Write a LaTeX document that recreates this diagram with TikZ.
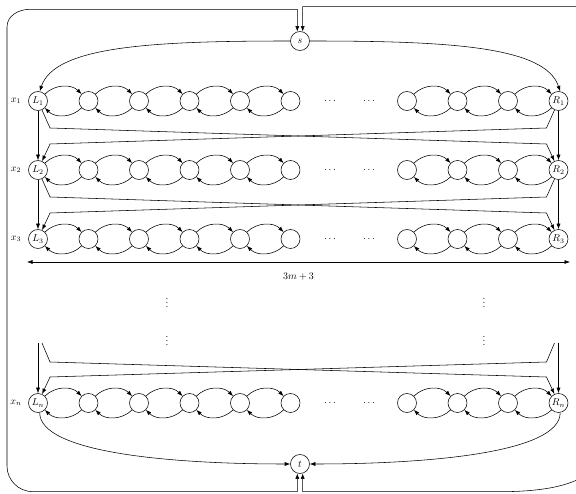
\documentclass[tikz,border=0pt]{standalone}
\usetikzlibrary{arrows.meta,calc}
\begin{document}
\begin{tikzpicture}[x=1pt,y=1pt,line width=0.55pt,
  >={Latex[length=5.5pt,width=4pt]},
  vtx/.style={circle,draw,minimum size=19pt,inner sep=0.5pt},
  chain/.style={->,bend left=45},
  lbl/.style={inner sep=1pt}]
\path[use as bounding box] (0,0) rectangle (576,493);
\clip (0,0) rectangle (576,493);
\node[vtx] (s) at (300,452) {$s$};
\node[vtx] (t) at (300,29) {$t$};
\foreach \r/\y in {1/392,2/323,3/254,n/90} {
  \node[vtx] (v\r-0) at (38,\y) {$L_{\r}$};
  \node[vtx] (v\r-9) at (558.5,\y) {$R_{\r}$};
  \node[lbl] (x\r) at (16,\y) {$x_{\r}$};
  \foreach \k in {1,...,5} {\node[vtx] (v\r-\k) at ({38+50.5*\k},\y) {};}
  \foreach \k in {6,7,8} {\node[vtx] (v\r-\k) at ({558.5-50.5*(9-\k)},\y) {};}
  \node (d\r a) at (330,\y) {$\cdots$};
  \node (d\r b) at (369,\y) {$\cdots$};
  \foreach \a/\b in {0/1,1/2,2/3,3/4,4/5,6/7,7/8,8/9} {
    \draw[chain] (v\r-\a) to (v\r-\b);
    \draw[chain] (v\r-\b) to (v\r-\a);
  }
}
% between rows
\foreach \i/\j in {1/2,2/3} {
  \draw[->] (v\i-0) -- (v\j-0);
  \draw[->] (v\i-9) -- (v\j-9);
  \draw[->] (v\i-0) -- ++(12,-27) -- ($(v\j-9)+(-12,26)$) -- (v\j-9);
  \draw[->] (v\i-9) -- ++(-12,-27) -- ($(v\j-0)+(12,26)$) -- (v\j-0);
}
% into row n
\coordinate (Lv) at (38,150);
\coordinate (Rv) at (558.5,150);
\coordinate (Ld) at (42,150);
\coordinate (Rd) at (554.5,150);
\draw[->] (Lv) -- (vn-0);
\draw[->] (Rv) -- (vn-9);
\draw[->] (Ld) -- ++(8,-19) -- ($(vn-9)+(-12,26)$) -- (vn-9);
\draw[->] (Rd) -- ++(-8,-19) -- ($(vn-0)+(12,26)$) -- (vn-0);
% s and t
\draw[->] (s.west) .. controls +(-140,0) and +(15,45) .. (v1-0.80);
\draw[->] (s.east) .. controls +(140,0) and +(-15,45) .. (v1-9.80);
\draw[->] (vn-0.-80) .. controls +(0,-40) and +(-120,0) .. (t.west);
\draw[->] (vn-9.-80) .. controls +(0,-40) and +(120,0) .. (t.east);
% outer loops
\draw[<->] (t.-106) -- (t.-106 |- 0,1.3) -- (33,1.3) to[out=180,in=-90] (7,27)
  -- (7,466) to[out=90,in=180] (30,483.7) -- (s.106 |- 0,483.7) -- (s.106);
\draw[<->] (t.-74) -- (t.-74 |- 0,1.3) -- (500,1.3) .. controls (560,1.3) and (605,13) .. (605,53)
  -- (605,463) .. controls (605,480) and (600,486.3) .. (585,486.3) -- (s.74 |- 0,486.3) -- (s.74);
% width arrow
\coordinate (wl) at (27,231);
\coordinate (wr) at (570,231);
\draw[<->] (wl) -- (wr) node[midway,below=7pt] (wlab) {$3m+3$};
% vertical dots
\node[inner sep=0pt] (vd1) at (167,193) {$\vdots$};
\node[inner sep=0pt] (vd2) at (167,155) {$\vdots$};
\node[inner sep=0pt] (vd3) at (484,193) {$\vdots$};
\node[inner sep=0pt] (vd4) at (484,155) {$\vdots$};
\end{tikzpicture}
\end{document}
